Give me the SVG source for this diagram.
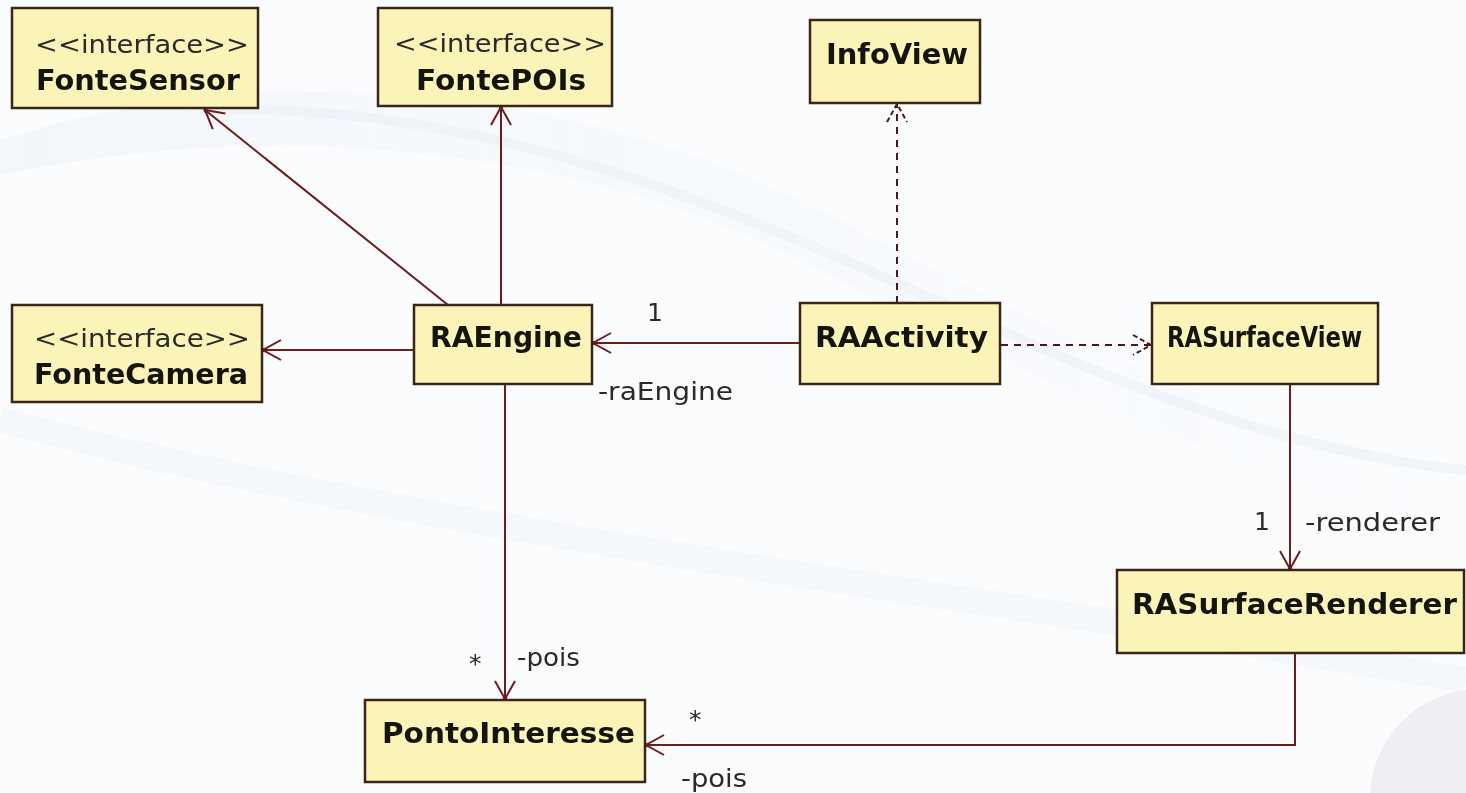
<svg xmlns="http://www.w3.org/2000/svg" width="1466" height="793" viewBox="0 0 1466 793">
<defs>
<style>
.box{fill:#fbf4b8;stroke:#3b2418;stroke-width:2.5}
.name{font-family:"DejaVu Sans",Verdana,sans-serif;font-weight:bold;font-size:28px;fill:#151510}
.ster{font-family:"DejaVu Sans",Verdana,sans-serif;font-size:25px;fill:#2a2a2a}
.lbl{font-family:"DejaVu Sans",Verdana,sans-serif;font-size:25px;fill:#2a2a2a}
.ln{fill:none;stroke:#6e1c1c;stroke-width:2}
.dash{fill:none;stroke:#4a1a1a;stroke-width:2;stroke-dasharray:7 6}
</style>
<marker id="open" viewBox="-22 -12 24 24" markerWidth="24" markerHeight="24" refX="0" refY="0" orient="auto" markerUnits="userSpaceOnUse" overflow="visible">
<path d="M-18,-10 L0,0 L-18,10" fill="none" stroke="#6e1c1c" stroke-width="2"/>
<circle cx="-1" cy="0" r="2.2" fill="#6e1c1c"/>
</marker>
<marker id="openD" viewBox="-22 -12 24 24" markerWidth="24" markerHeight="24" refX="0" refY="0" orient="auto" markerUnits="userSpaceOnUse" overflow="visible">
<path d="M-18,-10 L0,0 L-18,10" fill="none" stroke="#4a1a1a" stroke-width="2" stroke-dasharray="5 3"/>
</marker>
<linearGradient id="sw" x1="0" y1="0" x2="1" y2="0">
<stop offset="0" stop-color="#c9d8ea" stop-opacity="0.6"/>
<stop offset="1" stop-color="#e6eef7" stop-opacity="0.1"/>
</linearGradient>
</defs>
<rect width="1466" height="793" fill="#fafcfe"/>
<g id="background" opacity="0.6">
<path d="M0,140 C250,60 550,80 800,200 C1000,300 1200,420 1466,470 L1466,520 C1200,470 1000,360 800,260 C560,140 260,120 0,175 Z" fill="url(#sw)" opacity="0.4"/>
<path d="M200,110 C500,100 760,220 1000,330 C1200,420 1350,460 1466,470" fill="none" stroke="#dde6f0" stroke-width="10" opacity="0.5"/>
<path d="M0,420 C300,500 700,560 1100,620 L1466,680" fill="none" stroke="#eef2f7" stroke-width="26" opacity="0.5"/>
<path d="M1466,690 A110,110 0 0 0 1370,793 L1466,793 Z" fill="#e4e6ea"/>
</g>
<g id="connectors">
<line class="ln" x1="448" y1="305" x2="205" y2="110" marker-end="url(#open)"/>
<line class="ln" x1="501" y1="305" x2="501" y2="107" marker-end="url(#open)"/>
<line class="ln" x1="414" y1="350" x2="263" y2="350" marker-end="url(#open)"/>
<line class="ln" x1="800" y1="343" x2="593" y2="343" marker-end="url(#open)"/>
<line class="dash" x1="897" y1="303" x2="897" y2="104" marker-end="url(#openD)"/>
<line class="dash" x1="1001" y1="345" x2="1151" y2="345" marker-end="url(#openD)"/>
<line class="ln" x1="1290" y1="385" x2="1290" y2="569" marker-end="url(#open)"/>
<line class="ln" x1="505" y1="385" x2="505" y2="699" marker-end="url(#open)"/>
<polyline class="ln" points="1295,654 1295,745 646,745" marker-end="url(#open)"/>
<text class="lbl" x="647" y="321">1</text>
<text class="lbl" x="598" y="400" textLength="135" lengthAdjust="spacingAndGlyphs">-raEngine</text>
<text class="lbl" x="1254" y="530">1</text>
<text class="lbl" x="1305" y="531" textLength="135" lengthAdjust="spacingAndGlyphs">-renderer</text>
<text class="lbl" x="469" y="672">*</text>
<text class="lbl" x="517" y="666" textLength="63" lengthAdjust="spacingAndGlyphs">-pois</text>
<text class="lbl" x="689" y="728">*</text>
<text class="lbl" x="681" y="787" textLength="66" lengthAdjust="spacingAndGlyphs">-pois</text>
</g>
<g id="FonteSensor">
<rect class="box" x="12" y="8" width="246" height="100"/>
<text class="ster" x="35" y="53" textLength="214" lengthAdjust="spacingAndGlyphs">&lt;&lt;interface&gt;&gt;</text>
<text class="name" x="36" y="90" textLength="204" lengthAdjust="spacingAndGlyphs">FonteSensor</text>
</g>
<g id="FontePOIs">
<rect class="box" x="378" y="8" width="234" height="98"/>
<text class="ster" x="394" y="52" textLength="212" lengthAdjust="spacingAndGlyphs">&lt;&lt;interface&gt;&gt;</text>
<text class="name" x="416" y="90" textLength="170" lengthAdjust="spacingAndGlyphs">FontePOIs</text>
</g>
<g id="InfoView">
<rect class="box" x="810" y="20" width="170" height="83"/>
<text class="name" x="826" y="64" textLength="142" lengthAdjust="spacingAndGlyphs">InfoView</text>
</g>
<g id="FonteCamera">
<rect class="box" x="12" y="305" width="250" height="97"/>
<text class="ster" x="34" y="347" textLength="216" lengthAdjust="spacingAndGlyphs">&lt;&lt;interface&gt;&gt;</text>
<text class="name" x="34" y="384" textLength="214" lengthAdjust="spacingAndGlyphs">FonteCamera</text>
</g>
<g id="RAEngine">
<rect class="box" x="414" y="305" width="178" height="79"/>
<text class="name" x="430" y="347" textLength="152" lengthAdjust="spacingAndGlyphs">RAEngine</text>
</g>
<g id="RAActivity">
<rect class="box" x="800" y="303" width="200" height="81"/>
<text class="name" x="815" y="347" textLength="173" lengthAdjust="spacingAndGlyphs">RAActivity</text>
</g>
<g id="RASurfaceView">
<rect class="box" x="1152" y="303" width="226" height="81"/>
<text class="name" x="1167" y="347" textLength="195" lengthAdjust="spacingAndGlyphs">RASurfaceView</text>
</g>
<g id="RASurfaceRenderer">
<rect class="box" x="1117" y="570" width="347" height="83"/>
<text class="name" x="1132" y="614" textLength="325" lengthAdjust="spacingAndGlyphs">RASurfaceRenderer</text>
</g>
<g id="PontoInteresse">
<rect class="box" x="365" y="700" width="280" height="82"/>
<text class="name" x="382" y="743" textLength="253" lengthAdjust="spacingAndGlyphs">PontoInteresse</text>
</g>
</svg>
